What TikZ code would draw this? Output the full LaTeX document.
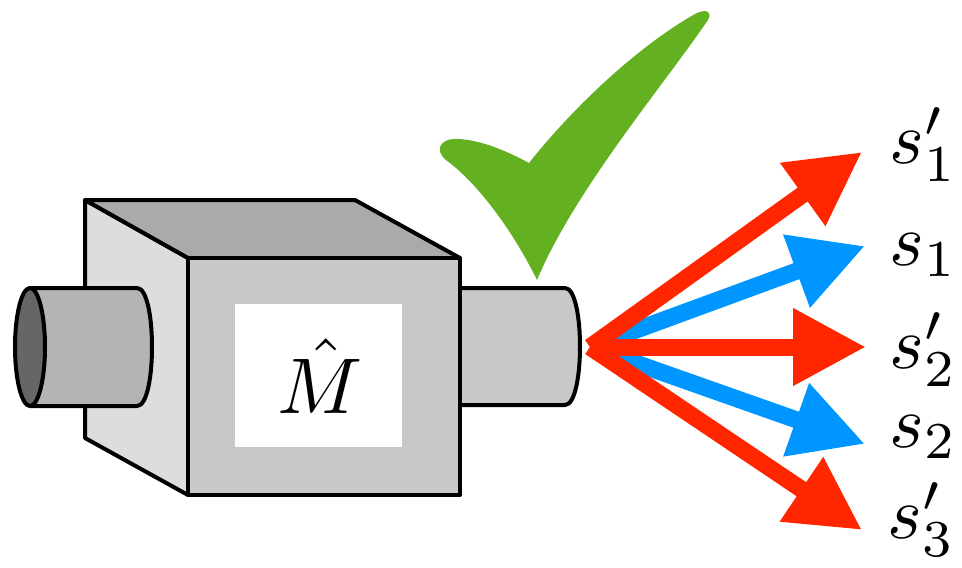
\documentclass[tikz,border=0pt]{standalone}
\usepackage{fix-cm}
\usetikzlibrary{arrows.meta}
\definecolor{tickgreen}{RGB}{99,177,32}
\definecolor{rayred}{RGB}{255,38,0}
\definecolor{rayblue}{RGB}{0,150,255}
\definecolor{frontgray}{RGB}{200,200,200}
\definecolor{topgray}{RGB}{170,170,170}
\definecolor{sidegray}{RGB}{221,221,221}
\definecolor{pipegray}{RGB}{180,180,180}
\definecolor{holegray}{RGB}{102,102,102}
\begin{document}
\begin{tikzpicture}[x=1pt,y=-1pt,
  edge/.style={line width=4pt, line join=round, line cap=round},
  ray/.style={line width=17pt, -{Triangle[length=73pt,width=73pt]}},
  lbl/.style={anchor=base west, inner sep=0pt, font=\fontsize{10}{12}\selectfont, scale=7.4, transform shape}]
\useasboundingbox (0,0) rectangle (962,568);

% right pipe (partly hidden by the front face)
\fill[frontgray] (440,288) -- (565,288) .. controls (585,288) and (585,405) .. (565,405) -- (440,405) -- cycle;
\draw[edge] (440,288) -- (565,288) .. controls (585,288) and (585,405) .. (565,405) -- (440,405);

% box: side, top and front faces
\filldraw[edge, fill=sidegray] (85,200) -- (188,258) -- (188,495) -- (85,438) -- cycle;
\filldraw[edge, fill=topgray] (85,200) -- (355,200) -- (460,258) -- (188,258) -- cycle;
\filldraw[edge, fill=frontgray] (188,258) rectangle (460,495);
\fill[white] (235,304) rectangle (402,447);
\node[anchor=base, inner sep=0pt, font=\fontsize{10}{12}\selectfont, scale=7.9, transform shape] (mhat) at (320,413) {$\hat{M}$};

% left pipe in front of the side face
\filldraw[edge, fill=pipegray] (30,288) -- (137,288) .. controls (157,288) and (157,406) .. (137,406) -- (30,406) -- cycle;
\filldraw[edge, fill=holegray] (30,347) ellipse [x radius=15, y radius=59];

% green tick
\fill[tickgreen] (537,280) .. controls (515,235) and (480,185) .. (446,160)
  .. controls (434,150) and (440,138) .. (458,139)
  .. controls (480,140) and (505,150) .. (529,163)
  .. controls (575,105) and (640,45) .. (695,14)
  .. controls (705,9) and (713,10) .. (708,20)
  .. controls (660,90) and (575,190) .. (537,280) -- cycle;

% output rays
\coordinate (src) at (590,347);
\coordinate (t1p) at (862,152);
\coordinate (t1) at (865,246);
\coordinate (t2p) at (866,347);
\coordinate (t2) at (865,444);
\coordinate (t3p) at (862,530);
\draw[ray, rayblue] (src) -- (t1);
\draw[ray, rayblue] (src) -- (t2);
\draw[ray, rayred] (src) -- (t1p);
\draw[ray, rayred] (src) -- (t2p);
\draw[ray, rayred] (src) -- (t3p);

% labels
\node[lbl] (l1p) at (888,163) {$s'_1$};
\node[lbl] (l1) at (888,265) {$s_1$};
\node[lbl] (l2p) at (888,368) {$s'_2$};
\node[lbl] (l2) at (888,447) {$s_2$};
\node[lbl] (l3p) at (886,538) {$s'_3$};
\end{tikzpicture}
\end{document}
